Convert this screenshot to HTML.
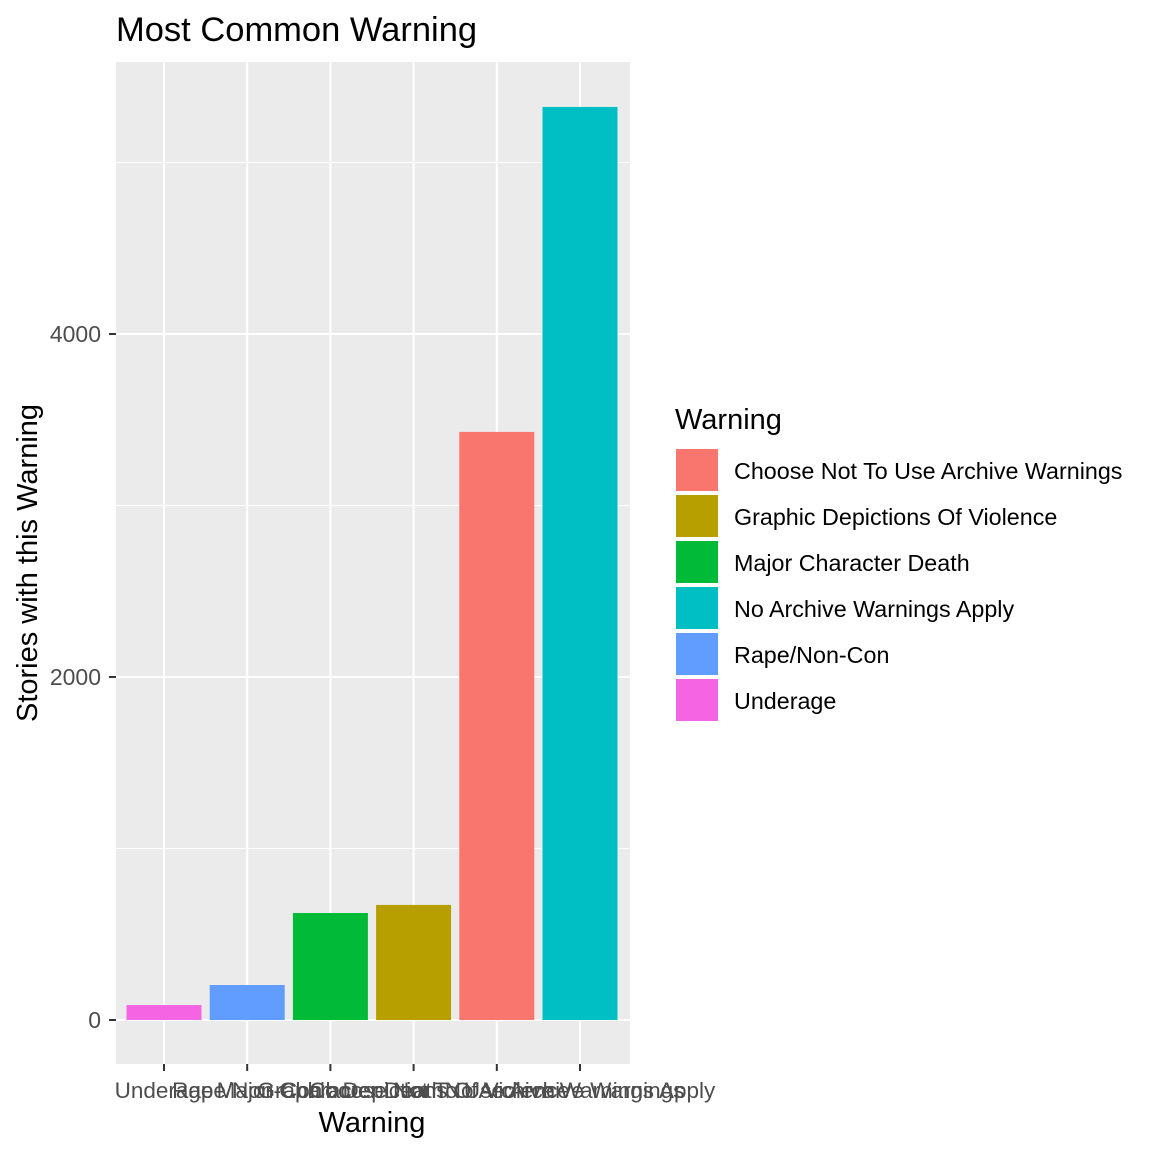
<!DOCTYPE html>
<html><head><meta charset="utf-8"><style>
body{margin:0;background:#fff;font-family:"Liberation Sans",Arial,sans-serif}
</style></head><body>
<svg id="chart" width="1152" height="1152" xmlns="http://www.w3.org/2000/svg" font-family="Liberation Sans, Arial, sans-serif">
<rect width="1152" height="1152" fill="#fff"/>
<text x="116" y="41" font-size="34.5" fill="#000">Most Common Warning</text>
<rect x="116" y="62" width="514" height="1002" fill="#ebebeb"/>
<g id="grid"></g>
<g id="bars"></g>
<g id="axes"></g>
<text transform="translate(37,563) rotate(-90)" text-anchor="middle" font-size="29" fill="#000">Stories with this Warning</text>
<text x="372" y="1132" text-anchor="middle" font-size="29" fill="#000">Warning</text>
<text x="675" y="429" font-size="29" fill="#000">Warning</text>
<g id="legend"></g>
</svg>
<script>
const categories=["Underage","Rape/Non-Con","Major Character Death","Graphic Depictions Of Violence","Choose Not To Use Archive Warnings","No Archive Warnings Apply"];
const values=[87,204,624,671,3429,5324];
const colors=["#F564E3","#619CFF","#00BA38","#B79F00","#F8766D","#00BFC4"];
const legendLabels=["Choose Not To Use Archive Warnings","Graphic Depictions Of Violence","Major Character Death","No Archive Warnings Apply","Rape/Non-Con","Underage"];
const legendColors=["#F8766D","#B79F00","#00BA38","#00BFC4","#619CFF","#F564E3"];
const majorTicks=[0,2000,4000];
const minorTicks=[1000,3000,5000];
const NS="http://www.w3.org/2000/svg";
const y=v=>1020-v*0.1715;
const step=83.2, x=i=>164+i*step, bw=75;
function mk(tag,attrs,parent){const e=document.createElementNS(NS,tag);for(const k in attrs)e.setAttribute(k,attrs[k]);parent.appendChild(e);return e;}
const grid=document.getElementById('grid'),bars=document.getElementById('bars'),axes=document.getElementById('axes'),legend=document.getElementById('legend');
minorTicks.forEach(t=>{const l=mk('line',{x1:116,x2:630,y1:y(t),y2:y(t),stroke:'#fff','stroke-width':1},grid);

});
majorTicks.forEach(t=>{const l=mk('line',{x1:116,x2:630,y1:y(t),y2:y(t),stroke:'#fff','stroke-width':2},grid);


const tk=mk('line',{x1:109,x2:116,y1:y(t),y2:y(t),stroke:'#333','stroke-width':2},axes);


const tx=mk('text',{x:101,y:y(t)+8,'text-anchor':'end','font-size':23,fill:'#4d4d4d'},axes);tx.textContent=t;

});
categories.forEach((c,i)=>{const g=mk('line',{x1:x(i),x2:x(i),y1:62,y2:1064,stroke:'#fff','stroke-width':2},grid);


const r=mk('rect',{x:x(i)-bw/2,y:y(values[i]),width:bw,height:y(0)-y(values[i]),fill:colors[i]},bars);


const tk=mk('line',{x1:x(i),x2:x(i),y1:1064,y2:1071,stroke:'#333','stroke-width':2},axes);


const tx=mk('text',{x:x(i),y:1098,'text-anchor':'middle','font-size':22.5,fill:'#4d4d4d'},axes);tx.textContent=c;

});
legendLabels.forEach((l,i)=>{const yy=448+i*46;
const r=mk('rect',{x:675,y:yy,width:44,height:44,fill:legendColors[i],stroke:'#fff','stroke-width':2},legend);


const t=mk('text',{x:734,y:yy+31,'font-size':23.3,fill:'#000'},legend);t.textContent=l;

});
</script>
</body></html>
